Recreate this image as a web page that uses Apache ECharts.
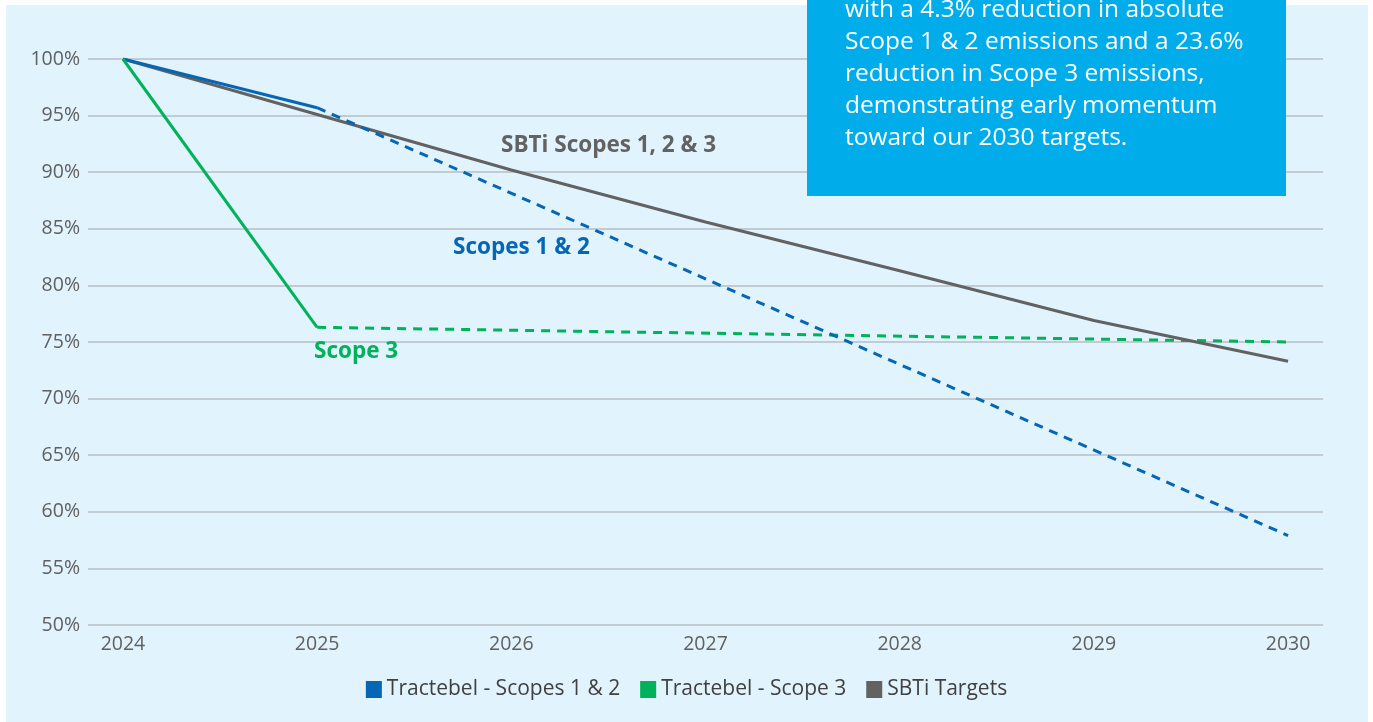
<!DOCTYPE html>
<html>
<head>
<meta charset="utf-8">
<script src="https://cdn.jsdelivr.net/npm/echarts@6/dist/echarts.min.js"></script>
<style>
  html, body { margin: 0; padding: 0; background: #ffffff; }
  #chart { width: 1373px; height: 722px; }
</style>
</head>
<body>
<div id="chart"></div>
<script>
// 数据
var years = [2024, 2025, 2026, 2027, 2028, 2029, 2030];
var scope12Actual = [100, 95.7];          // 2024-2025 实际
var scope12Projected = [95.7, 57.9];      // 2025 -> 2030 预测
var scope3Actual = [100, 76.3];
var scope3Projected = [76.3, 75.0];
var sbtiTargets = [100, 95.1, 90.2, 85.6, 81.3, 76.9, 73.3];
var calloutLines = [
  'with a 4.3% reduction in absolute',
  'Scope 1 & 2 emissions and a 23.6%',
  'reduction in Scope 3 emissions,',
  'demonstrating early momentum',
  'toward our 2030 targets.'
];

var BLUE = '#0566B5', GREEN = '#00B25A', GRAY = '#626262';
var FONT = '"Open Sans", "Noto Sans", sans-serif';

function pairs(xs, ys) {
  return ys.map(function (v, i) { return [xs[i], v]; });
}

var myChart = echarts.init(document.getElementById('chart'));

var option = {
  animation: false,
  textStyle: { fontFamily: FONT },
  grid: { left: 88, right: 50, top: 59, bottom: 97 },
  xAxis: {
    type: 'value',
    min: 2023.82,
    max: 2030.18,
    axisLine: { show: false },
    axisTick: { show: false },
    splitLine: { show: false },
    axisLabel: {
      customValues: years,
      color: '#606060',
      fontSize: 19.5,
      margin: 9,
      formatter: function (v) { return String(v); }
    }
  },
  yAxis: {
    type: 'value',
    min: 50,
    max: 100,
    interval: 5,
    axisLine: { show: false },
    axisTick: { show: false },
    axisLabel: {
      color: '#606060',
      fontSize: 19.5,
      margin: 8,
      formatter: '{value}%'
    },
    splitLine: { lineStyle: { color: '#B8BEC4', width: 1.5 } }
  },
  legend: {
    bottom: 17,
    left: 'center',
    itemWidth: 16,
    itemHeight: 17,
    itemGap: 20,
    icon: 'rect',
    textStyle: { color: '#404040', fontSize: 21, fontFamily: FONT },
    data: ['Tractebel - Scopes 1 & 2', 'Tractebel - Scope 3', 'SBTi Targets']
  },
  graphic: [
    { type: 'rect', z: -100, silent: true,
      shape: { x: 6, y: 5, width: 1362, height: 717 },
      style: { fill: '#E1F3FC' } },
    { type: 'rect', z: 100, silent: true,
      shape: { x: 807, y: -5, width: 479, height: 201 },
      style: { fill: '#00ADEA' } },
    { type: 'text', z: 101, silent: true, x: 845, y: -6,
      style: { text: calloutLines.join('\n'), fill: '#ffffff',
        font: '24.5px ' + FONT, lineHeight: 32 } },
    { type: 'text', z: 50, x: 501, y: 146,
      style: { text: 'SBTi Scopes 1, 2 & 3', fill: GRAY,
        font: 'bold 22.5px ' + FONT, verticalAlign: 'middle' } },
    { type: 'text', z: 50, x: 453, y: 248,
      style: { text: 'Scopes 1 & 2', fill: BLUE,
        font: 'bold 22.5px ' + FONT, verticalAlign: 'middle' } },
    { type: 'text', z: 50, x: 314, y: 352,
      style: { text: 'Scope 3', fill: GREEN,
        font: 'bold 22.5px ' + FONT, verticalAlign: 'middle' } }
  ],
  series: [
    {
      name: 'SBTi Targets', type: 'line', color: GRAY,
      data: pairs(years, sbtiTargets),
      symbol: 'none', lineStyle: { width: 3, color: GRAY }, z: 3
    },
    {
      name: 'Tractebel - Scopes 1 & 2', type: 'line', color: BLUE,
      data: pairs([2024, 2025], scope12Actual),
      symbol: 'none', lineStyle: { width: 3, color: BLUE }, z: 4
    },
    {
      name: 'Scopes 1 & 2 projection', type: 'line', color: BLUE,
      data: pairs([2025, 2030], scope12Projected),
      symbol: 'none', lineStyle: { width: 3, color: BLUE, type: [9, 7] }, z: 4
    },
    {
      name: 'Tractebel - Scope 3', type: 'line', color: GREEN,
      data: pairs([2024, 2025], scope3Actual),
      symbol: 'none', lineStyle: { width: 3, color: GREEN }, z: 4
    },
    {
      name: 'Scope 3 projection', type: 'line', color: GREEN,
      data: pairs([2025, 2030], scope3Projected),
      symbol: 'none', lineStyle: { width: 3, color: GREEN, type: [9, 7] }, z: 2
    }
  ]
};

myChart.setOption(option);
</script>
</body>
</html>
